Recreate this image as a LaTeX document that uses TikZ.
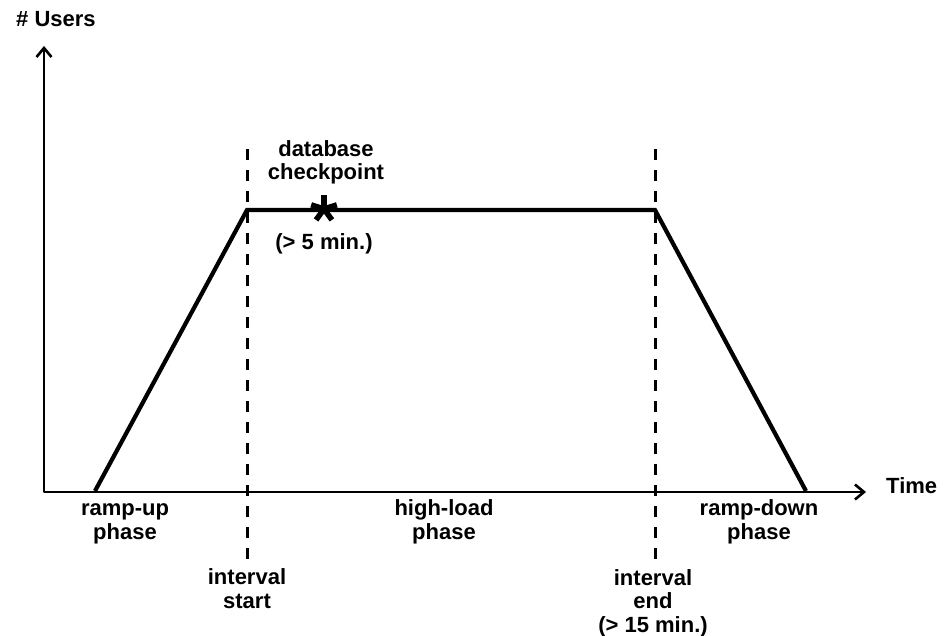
\documentclass[tikz,border=0pt]{standalone}
\usepackage{fontspec}
\setmainfont{Liberation Sans}
\usetikzlibrary{arrows.meta}
\begin{document}
\begin{tikzpicture}[x=1pt,y=-1pt,
  lbl/.style={font=\bfseries\fontsize{22}{23.5}\selectfont, align=center, inner sep=0pt, anchor=base},
  axis/.style={line width=2.4pt, line join=round,
    {Straight Barb[length=9pt,width=15pt,line width=2.6pt]}-{Straight Barb[length=9pt,width=15pt,line width=2.6pt]}},
  load/.style={line width=4.2pt, line join=miter},
  marker/.style={line width=3pt, dash pattern=on 11pt off 10pt},
  star/.style={line width=5.5pt}]
\useasboundingbox (0,0) rectangle (947,636);

% axes
\coordinate (origin) at (44,492);
\coordinate (ytip) at (44,46);
\coordinate (xtip) at (866,492);
\draw[axis] (ytip) -- (origin) -- (xtip);

% load profile
\coordinate (r0) at (95,491);
\coordinate (r1) at (247,210);
\coordinate (r2) at (655,210);
\coordinate (r3) at (806,491);
\draw[load] (r0) -- (r1) -- (r2) -- (r3);

% interval markers
\coordinate (s0) at (247,149);
\coordinate (s1) at (247,561);
\coordinate (e0) at (655,149);
\coordinate (e1) at (655,561);
\draw[marker] (s0) -- (s1);
\draw[marker] (e0) -- (e1);

% checkpoint asterisk
\coordinate (cp) at (324,209);
\foreach \a in {90,18,162,234,306}
  \draw[star] (cp) -- ++(\a:-13.5);

% labels (anchored at the baseline of their last line)
\node[lbl] (users) at (56,27) {\# Users};
\node[lbl, anchor=base west] (time) at (886,493) {Time};
\node[lbl] (db) at (326,180) {database\\checkpoint};
\node[lbl] (five) at (324,250) {(> 5 min.)};
\node[lbl] (up) at (125,539) {ramp-up\\phase};
\node[lbl] (high) at (444,539) {high-load\\phase};
\node[lbl] (down) at (759,539) {ramp-down\\phase};
\node[lbl] (istart) at (247,608) {interval\\start};
\node[lbl] (iend) at (653,632) {interval\\end\\(> 15 min.)};
\end{tikzpicture}
\end{document}
